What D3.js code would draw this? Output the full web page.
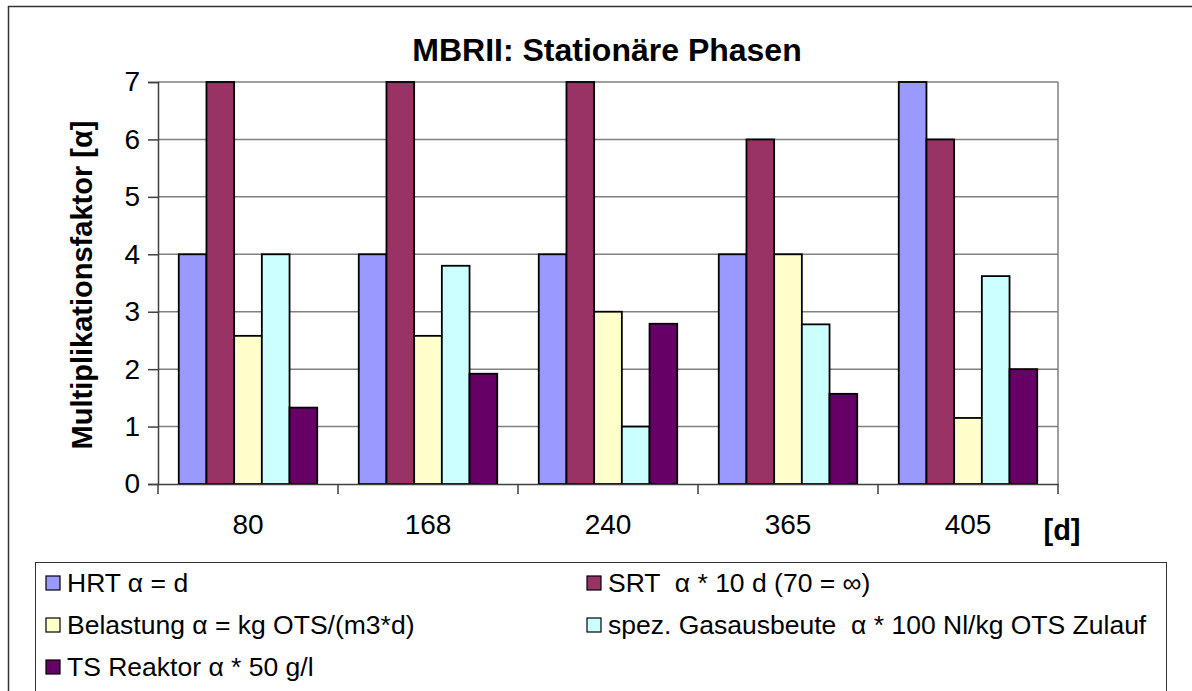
<!DOCTYPE html>
<html>
<head>
<meta charset="utf-8">
<script src="https://cdn.jsdelivr.net/npm/d3@7"></script>
<style>
  html, body { margin: 0; padding: 0; background: #ffffff; }
  svg { display: block; font-family: "Liberation Sans", Arial, sans-serif; }
  text { white-space: pre; }
</style>
</head>
<body>
<svg id="chart" width="1192" height="691"></svg>
<script>
// Sampling days of the stationary phases
const categories = ["80", "168", "240", "365", "405"];

// Series names (legend order) and fills
const seriesNames = [
  "HRT α = d",
  "SRT  α * 10 d (70 = ∞)",
  "Belastung α = kg OTS/(m3*d)",
  "spez. Gasausbeute  α * 100 Nl/kg OTS Zulauf",
  "TS Reaktor α * 50 g/l"
];
const seriesColors = ["#9999FF", "#993366", "#FFFFCC", "#CCFFFF", "#660066"];

// Multiplication factor α per series, one value per day
const hrt       = [4, 4, 4, 4, 7];
const srt       = [7, 7, 7, 6, 6];
const belastung = [2.58, 2.58, 3, 4, 1.15];
const gas       = [4, 3.8, 1, 2.78, 3.62];
const tsReaktor = [1.33, 1.92, 2.79, 1.57, 2];
const seriesValues = [hrt, srt, belastung, gas, tsReaktor];

const yTicks = [0, 1, 2, 3, 4, 5, 6, 7];

const svg = d3.select("#chart");
const plot = { left: 158, right: 1058, top: 82, bottom: 484 };

// Outer chart frame
svg.append("rect")
  .attr("x", 8.5).attr("y", 6.5)
  .attr("width", 1300).attr("height", 800)
  .attr("fill", "#ffffff")
  .attr("stroke", "#333333").attr("stroke-width", 1.5);

// Scales
const x0 = d3.scaleBand().domain(categories)
  .range([plot.left, plot.right]).paddingInner(0).paddingOuter(0);
const x1 = d3.scaleBand().domain(d3.range(seriesNames.length))
  .range([0, x0.bandwidth()]).paddingInner(0).paddingOuter(0.75);
const y = d3.scaleLinear().domain([0, 7]).range([plot.bottom, plot.top]);

// Horizontal gridlines
svg.append("g").selectAll("line").data(yTicks.slice(1)).join("line")
  .attr("x1", plot.left).attr("x2", plot.right)
  .attr("y1", d => y(d)).attr("y2", d => y(d))
  .attr("stroke", "#808080").attr("stroke-width", 1.5);

// Plot-area border (right side)
svg.append("line")
  .attr("x1", plot.right).attr("x2", plot.right)
  .attr("y1", plot.top).attr("y2", plot.bottom)
  .attr("stroke", "#808080").attr("stroke-width", 1.5);

// Bars
const groups = svg.append("g").selectAll("g").data(categories).join("g")
  .attr("transform", d => `translate(${x0(d)},0)`);
groups.selectAll("rect")
  .data((c, ci) => seriesValues.map((vals, si) => ({ si, v: vals[ci] })))
  .join("rect")
  .attr("x", d => x1(d.si))
  .attr("y", d => y(d.v))
  .attr("width", x1.bandwidth())
  .attr("height", d => y(0) - y(d.v))
  .attr("fill", d => seriesColors[d.si])
  .attr("stroke", "#000000").attr("stroke-width", 1.8);

// Y axis
const yAxis = svg.append("g")
  .attr("transform", `translate(${plot.left},0)`)
  .call(d3.axisLeft(y).tickValues(yTicks).tickSize(10).tickPadding(8)
    .tickFormat(d3.format("d")));
yAxis.select(".domain").attr("stroke", "#404040").attr("stroke-width", 1.5);
yAxis.selectAll(".tick line").attr("stroke", "#404040").attr("stroke-width", 1.5);
yAxis.selectAll(".tick text")
  .attr("font-size", 28).attr("fill", "#000")
  .attr("font-family", "Liberation Sans, Arial, sans-serif");

// X axis (category boundaries as tick marks)
const xAxis = svg.append("g")
  .attr("transform", `translate(0,${plot.bottom})`)
  .call(d3.axisBottom(x0).tickSize(0).tickPadding(30));
xAxis.select(".domain").attr("stroke", "#404040").attr("stroke-width", 1.5);
xAxis.selectAll(".tick text")
  .attr("font-size", 28).attr("fill", "#000")
  .attr("font-family", "Liberation Sans, Arial, sans-serif");
svg.append("g").selectAll("line")
  .data(categories.map(c => x0(c)).concat([plot.right]))
  .join("line")
  .attr("x1", d => d).attr("x2", d => d)
  .attr("y1", plot.bottom).attr("y2", plot.bottom + 10)
  .attr("stroke", "#404040").attr("stroke-width", 1.5);

// Title
svg.append("text")
  .attr("x", 607).attr("y", 61)
  .attr("text-anchor", "middle")
  .attr("font-size", 32).attr("font-weight", "bold")
  .text("MBRII: Stationäre Phasen");

// Y axis title
svg.append("text")
  .attr("transform", "translate(92,285) rotate(-90)")
  .attr("text-anchor", "middle")
  .attr("font-size", 29).attr("font-weight", "bold")
  .text("Multiplikationsfaktor [α]");

// X axis unit
svg.append("text")
  .attr("x", 1062).attr("y", 540)
  .attr("text-anchor", "middle")
  .attr("font-size", 29).attr("font-weight", "bold")
  .text("[d]");

// Legend
svg.append("rect")
  .attr("x", 35.5).attr("y", 562.5)
  .attr("width", 1131).attr("height", 200)
  .attr("fill", "#ffffff")
  .attr("stroke", "#333333").attr("stroke-width", 1);

const legendPos = [
  { x: 46, y: 583 }, { x: 587, y: 583 },
  { x: 46, y: 625 }, { x: 587, y: 625 },
  { x: 46, y: 667 }
];
const legend = svg.append("g").selectAll("g").data(seriesNames).join("g")
  .attr("transform", (d, i) => `translate(${legendPos[i].x},${legendPos[i].y})`);
legend.append("rect")
  .attr("x", 0).attr("y", -7)
  .attr("width", 14).attr("height", 14)
  .attr("fill", (d, i) => seriesColors[i])
  .attr("stroke", "#000").attr("stroke-width", 1.2);
legend.append("text")
  .attr("x", 21).attr("y", 0)
  .attr("dy", "0.35em")
  .attr("font-size", 26.5)
  .text(d => d);
</script>
</body>
</html>
